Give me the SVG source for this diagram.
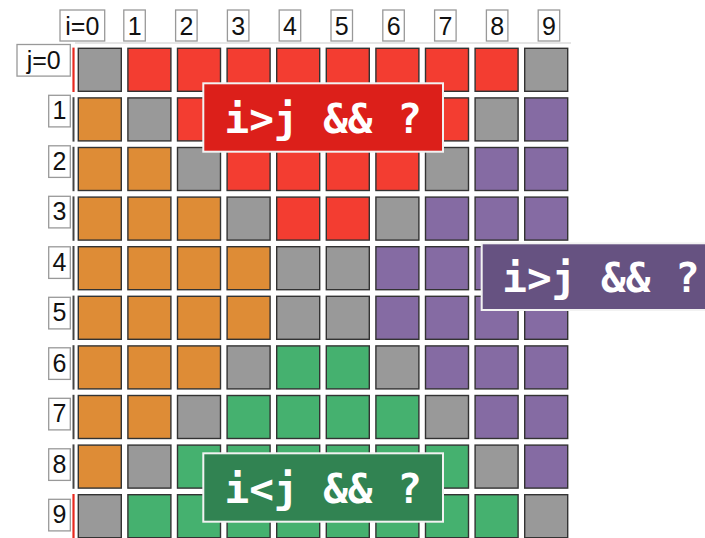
<svg xmlns="http://www.w3.org/2000/svg" width="705" height="538" viewBox="0 0 705 538">
<style>
.c{stroke:#333;stroke-width:1.4}
.g{fill:#999999}.r{fill:#f33d31}.o{fill:#de8c36}.n{fill:#45b16f}.p{fill:#856ba3}
.lb{fill:#fff;stroke:#999;stroke-width:1.3}
.lt{font-family:"Liberation Sans",Arial,sans-serif;font-size:25px;fill:#111;text-anchor:middle}
.bar{stroke:#444;stroke-width:2}
.barR{stroke:#e8281e;stroke-width:2.2}
.ov{stroke:#f2f2f2;stroke-width:2}
.ot{font-family:"DejaVu Sans Mono","Liberation Mono",monospace;font-weight:bold;font-size:41px;fill:#fff;text-anchor:middle}
</style>
<rect width="705" height="538" fill="#fff"/>
<line x1="75" y1="43" x2="571" y2="43" stroke="#ddd" stroke-width="1.5"/>
<!-- column labels -->
<g id="col0"><rect class="lb" x="60" y="10" width="44.7" height="31"/><text class="lt" x="82.3" y="34.5">i=0</text></g>
<g id="col1"><rect class="lb" x="123.8" y="10" width="21.5" height="31"/><text class="lt" x="134.6" y="34.5">1</text></g>
<g id="col2"><rect class="lb" x="175.6" y="10" width="21.5" height="31"/><text class="lt" x="186.4" y="34.5">2</text></g>
<g id="col3"><rect class="lb" x="227.4" y="10" width="21.5" height="31"/><text class="lt" x="238.2" y="34.5">3</text></g>
<g id="col4"><rect class="lb" x="279.2" y="10" width="21.5" height="31"/><text class="lt" x="290" y="34.5">4</text></g>
<g id="col5"><rect class="lb" x="331" y="10" width="21.5" height="31"/><text class="lt" x="341.8" y="34.5">5</text></g>
<g id="col6"><rect class="lb" x="382.8" y="10" width="21.5" height="31"/><text class="lt" x="393.6" y="34.5">6</text></g>
<g id="col7"><rect class="lb" x="434.6" y="10" width="21.5" height="31"/><text class="lt" x="445.4" y="34.5">7</text></g>
<g id="col8"><rect class="lb" x="486.4" y="10" width="21.5" height="31"/><text class="lt" x="497.2" y="34.5">8</text></g>
<g id="col9"><rect class="lb" x="538.2" y="10" width="21.5" height="31"/><text class="lt" x="549" y="34.5">9</text></g>
<!-- row labels -->
<g id="row0"><rect class="lb" x="17" y="44.5" width="53.3" height="31.6"/><text class="lt" x="43.7" y="68.5">j=0</text></g>
<g id="row1"><rect class="lb" x="48.7" y="95.3" width="21.6" height="31.6"/><text class="lt" x="59.5" y="119.3">1</text></g>
<g id="row2"><rect class="lb" x="48.7" y="145.8" width="21.6" height="31.6"/><text class="lt" x="59.5" y="169.8">2</text></g>
<g id="row3"><rect class="lb" x="48.7" y="196.3" width="21.6" height="31.6"/><text class="lt" x="59.5" y="220.3">3</text></g>
<g id="row4"><rect class="lb" x="48.7" y="246.8" width="21.6" height="31.6"/><text class="lt" x="59.5" y="270.8">4</text></g>
<g id="row5"><rect class="lb" x="48.7" y="297.3" width="21.6" height="31.6"/><text class="lt" x="59.5" y="321.3">5</text></g>
<g id="row6"><rect class="lb" x="48.7" y="347.8" width="21.6" height="31.6"/><text class="lt" x="59.5" y="371.8">6</text></g>
<g id="row7"><rect class="lb" x="48.7" y="398.3" width="21.6" height="31.6"/><text class="lt" x="59.5" y="422.3">7</text></g>
<g id="row8"><rect class="lb" x="48.7" y="448.8" width="21.6" height="31.6"/><text class="lt" x="59.5" y="472.8">8</text></g>
<g id="row9"><rect class="lb" x="48.7" y="499.3" width="21.6" height="31.6"/><text class="lt" x="59.5" y="523.3">9</text></g>
<!-- row bars -->
<g id="bars">
<line class="barR" x1="73.5" y1="47.6" x2="73.5" y2="92"/>
<line class="bar" x1="73.5" y1="97.2" x2="73.5" y2="141.6"/>
<line class="bar" x1="73.5" y1="146.8" x2="73.5" y2="191.2"/>
<line class="bar" x1="73.5" y1="196.4" x2="73.5" y2="240.8"/>
<line class="bar" x1="73.5" y1="246" x2="73.5" y2="290.4"/>
<line class="bar" x1="73.5" y1="295.6" x2="73.5" y2="340"/>
<line class="bar" x1="73.5" y1="345.2" x2="73.5" y2="389.6"/>
<line class="bar" x1="73.5" y1="394.8" x2="73.5" y2="439.2"/>
<line class="bar" x1="73.5" y1="444.4" x2="73.5" y2="488.8"/>
<line class="barR" x1="73.5" y1="494" x2="73.5" y2="538"/>
</g>
<!-- cells -->
<g id="cells">
<g id="r0">
<rect class="c g" x="78.3" y="48.3" width="43" height="43"/><rect class="c r" x="127.9" y="48.3" width="43" height="43"/><rect class="c r" x="177.5" y="48.3" width="43" height="43"/><rect class="c r" x="227.1" y="48.3" width="43" height="43"/><rect class="c r" x="276.7" y="48.3" width="43" height="43"/><rect class="c r" x="326.3" y="48.3" width="43" height="43"/><rect class="c r" x="375.9" y="48.3" width="43" height="43"/><rect class="c r" x="425.5" y="48.3" width="43" height="43"/><rect class="c r" x="475.1" y="48.3" width="43" height="43"/><rect class="c g" x="524.7" y="48.3" width="43" height="43"/>
</g>
<g id="r1">
<rect class="c o" x="78.3" y="97.9" width="43" height="43"/><rect class="c g" x="127.9" y="97.9" width="43" height="43"/><rect class="c r" x="177.5" y="97.9" width="43" height="43"/><rect class="c r" x="227.1" y="97.9" width="43" height="43"/><rect class="c r" x="276.7" y="97.9" width="43" height="43"/><rect class="c r" x="326.3" y="97.9" width="43" height="43"/><rect class="c r" x="375.9" y="97.9" width="43" height="43"/><rect class="c r" x="425.5" y="97.9" width="43" height="43"/><rect class="c g" x="475.1" y="97.9" width="43" height="43"/><rect class="c p" x="524.7" y="97.9" width="43" height="43"/>
</g>
<g id="r2">
<rect class="c o" x="78.3" y="147.5" width="43" height="43"/><rect class="c o" x="127.9" y="147.5" width="43" height="43"/><rect class="c g" x="177.5" y="147.5" width="43" height="43"/><rect class="c r" x="227.1" y="147.5" width="43" height="43"/><rect class="c r" x="276.7" y="147.5" width="43" height="43"/><rect class="c r" x="326.3" y="147.5" width="43" height="43"/><rect class="c r" x="375.9" y="147.5" width="43" height="43"/><rect class="c g" x="425.5" y="147.5" width="43" height="43"/><rect class="c p" x="475.1" y="147.5" width="43" height="43"/><rect class="c p" x="524.7" y="147.5" width="43" height="43"/>
</g>
<g id="r3">
<rect class="c o" x="78.3" y="197.1" width="43" height="43"/><rect class="c o" x="127.9" y="197.1" width="43" height="43"/><rect class="c o" x="177.5" y="197.1" width="43" height="43"/><rect class="c g" x="227.1" y="197.1" width="43" height="43"/><rect class="c r" x="276.7" y="197.1" width="43" height="43"/><rect class="c r" x="326.3" y="197.1" width="43" height="43"/><rect class="c g" x="375.9" y="197.1" width="43" height="43"/><rect class="c p" x="425.5" y="197.1" width="43" height="43"/><rect class="c p" x="475.1" y="197.1" width="43" height="43"/><rect class="c p" x="524.7" y="197.1" width="43" height="43"/>
</g>
<g id="r4">
<rect class="c o" x="78.3" y="246.7" width="43" height="43"/><rect class="c o" x="127.9" y="246.7" width="43" height="43"/><rect class="c o" x="177.5" y="246.7" width="43" height="43"/><rect class="c o" x="227.1" y="246.7" width="43" height="43"/><rect class="c g" x="276.7" y="246.7" width="43" height="43"/><rect class="c g" x="326.3" y="246.7" width="43" height="43"/><rect class="c p" x="375.9" y="246.7" width="43" height="43"/><rect class="c p" x="425.5" y="246.7" width="43" height="43"/><rect class="c p" x="475.1" y="246.7" width="43" height="43"/><rect class="c p" x="524.7" y="246.7" width="43" height="43"/>
</g>
<g id="r5">
<rect class="c o" x="78.3" y="296.3" width="43" height="43"/><rect class="c o" x="127.9" y="296.3" width="43" height="43"/><rect class="c o" x="177.5" y="296.3" width="43" height="43"/><rect class="c o" x="227.1" y="296.3" width="43" height="43"/><rect class="c g" x="276.7" y="296.3" width="43" height="43"/><rect class="c g" x="326.3" y="296.3" width="43" height="43"/><rect class="c p" x="375.9" y="296.3" width="43" height="43"/><rect class="c p" x="425.5" y="296.3" width="43" height="43"/><rect class="c p" x="475.1" y="296.3" width="43" height="43"/><rect class="c p" x="524.7" y="296.3" width="43" height="43"/>
</g>
<g id="r6">
<rect class="c o" x="78.3" y="345.9" width="43" height="43"/><rect class="c o" x="127.9" y="345.9" width="43" height="43"/><rect class="c o" x="177.5" y="345.9" width="43" height="43"/><rect class="c g" x="227.1" y="345.9" width="43" height="43"/><rect class="c n" x="276.7" y="345.9" width="43" height="43"/><rect class="c n" x="326.3" y="345.9" width="43" height="43"/><rect class="c g" x="375.9" y="345.9" width="43" height="43"/><rect class="c p" x="425.5" y="345.9" width="43" height="43"/><rect class="c p" x="475.1" y="345.9" width="43" height="43"/><rect class="c p" x="524.7" y="345.9" width="43" height="43"/>
</g>
<g id="r7">
<rect class="c o" x="78.3" y="395.5" width="43" height="43"/><rect class="c o" x="127.9" y="395.5" width="43" height="43"/><rect class="c g" x="177.5" y="395.5" width="43" height="43"/><rect class="c n" x="227.1" y="395.5" width="43" height="43"/><rect class="c n" x="276.7" y="395.5" width="43" height="43"/><rect class="c n" x="326.3" y="395.5" width="43" height="43"/><rect class="c n" x="375.9" y="395.5" width="43" height="43"/><rect class="c g" x="425.5" y="395.5" width="43" height="43"/><rect class="c p" x="475.1" y="395.5" width="43" height="43"/><rect class="c p" x="524.7" y="395.5" width="43" height="43"/>
</g>
<g id="r8">
<rect class="c o" x="78.3" y="445.1" width="43" height="43"/><rect class="c g" x="127.9" y="445.1" width="43" height="43"/><rect class="c n" x="177.5" y="445.1" width="43" height="43"/><rect class="c n" x="227.1" y="445.1" width="43" height="43"/><rect class="c n" x="276.7" y="445.1" width="43" height="43"/><rect class="c n" x="326.3" y="445.1" width="43" height="43"/><rect class="c n" x="375.9" y="445.1" width="43" height="43"/><rect class="c n" x="425.5" y="445.1" width="43" height="43"/><rect class="c g" x="475.1" y="445.1" width="43" height="43"/><rect class="c p" x="524.7" y="445.1" width="43" height="43"/>
</g>
<g id="r9">
<rect class="c g" x="78.3" y="494.7" width="43" height="43"/><rect class="c n" x="127.9" y="494.7" width="43" height="43"/><rect class="c n" x="177.5" y="494.7" width="43" height="43"/><rect class="c n" x="227.1" y="494.7" width="43" height="43"/><rect class="c n" x="276.7" y="494.7" width="43" height="43"/><rect class="c n" x="326.3" y="494.7" width="43" height="43"/><rect class="c n" x="375.9" y="494.7" width="43" height="43"/><rect class="c n" x="425.5" y="494.7" width="43" height="43"/><rect class="c n" x="475.1" y="494.7" width="43" height="43"/><rect class="c g" x="524.7" y="494.7" width="43" height="43"/>
</g>
</g>
<!-- overlay boxes -->
<g id="box-red"><rect class="ov" x="203.3" y="83.3" width="239.7" height="68.4" fill="#dc1f1a"/><text class="ot" x="323.2" y="132.5">i&gt;j &amp;&amp; ?</text></g>
<g id="box-purple"><rect class="ov" x="481.7" y="243.3" width="239.7" height="66.7" fill="#665281"/><text class="ot" x="601" y="291.7">i&gt;j &amp;&amp; ?</text></g>
<g id="box-green"><rect class="ov" x="203.3" y="453.3" width="239.7" height="68.4" fill="#318352"/><text class="ot" x="323.2" y="502.7">i&lt;j &amp;&amp; ?</text></g>
</svg>
